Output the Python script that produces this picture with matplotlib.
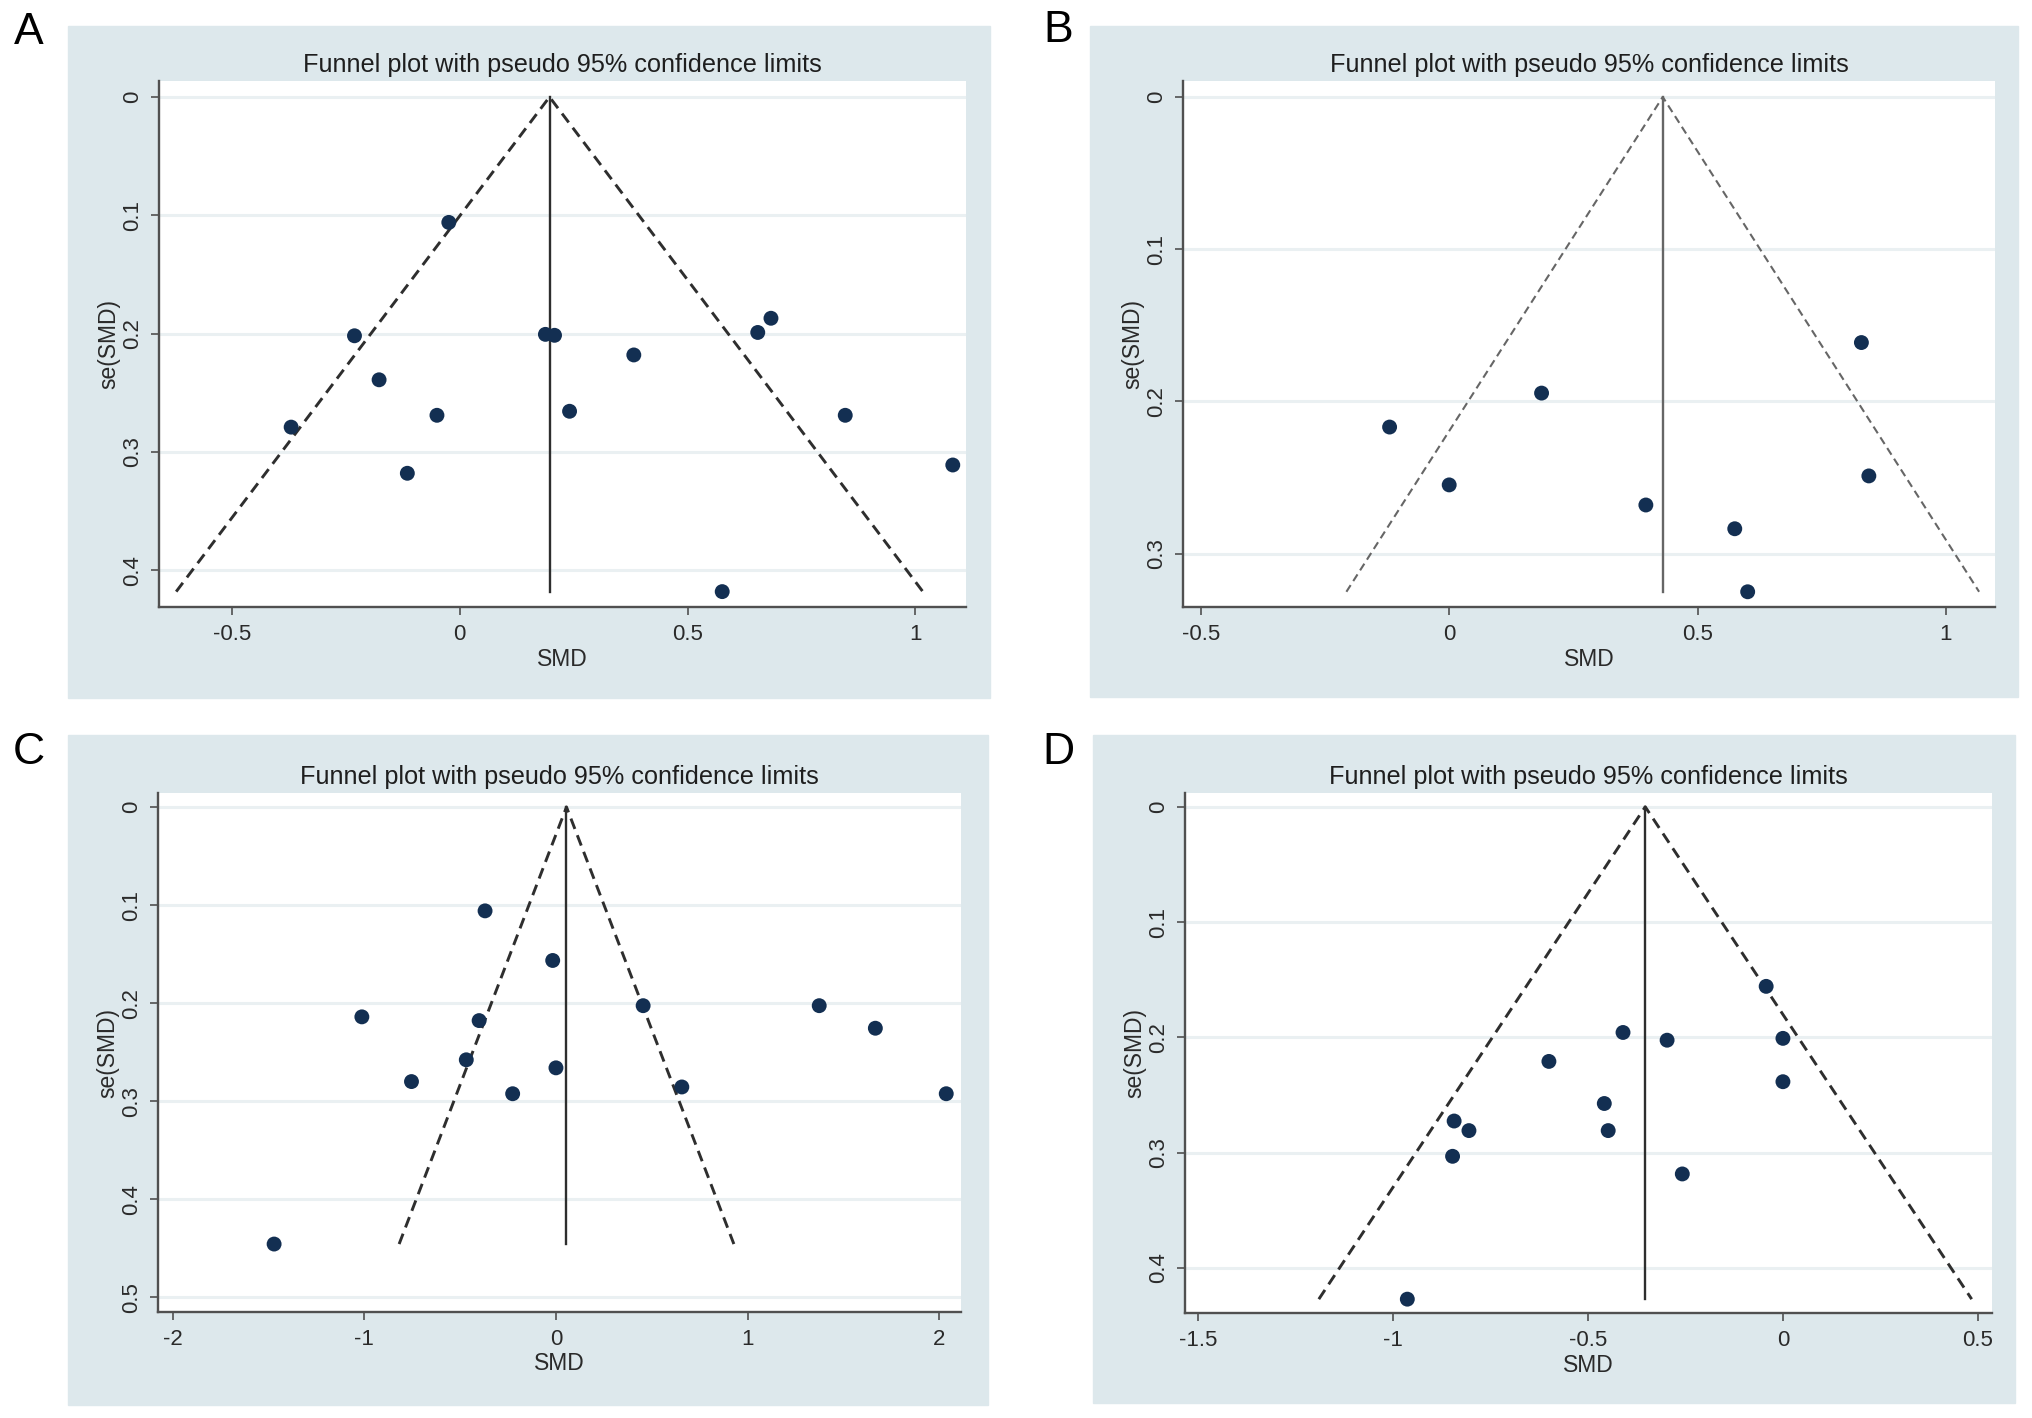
import numpy as np
import matplotlib
matplotlib.use("Agg")
import matplotlib.pyplot as plt
from matplotlib.patches import Rectangle

plt.rcParams['font.family'] = ['Liberation Sans', 'DejaVu Sans']
plt.rcParams['axes.unicode_minus'] = False

# values
a_smd = [-0.024, -0.231, -0.177, -0.370, -0.050, -0.115, 0.188, 0.208,
         0.241, 0.382, 0.654, 0.683, 0.846, 1.082, 0.576]
a_se = [0.106, 0.2018, 0.239, 0.279, 0.269, 0.318, 0.2006, 0.2014,
        0.2656, 0.218, 0.199, 0.187, 0.269, 0.311, 0.418]
a_theta = 0.197

b_smd = [-0.120, 0.000, 0.186, 0.396, 0.575, 0.601, 0.830, 0.845]
b_se = [0.2168, 0.2548, 0.1945, 0.268, 0.2836, 0.325, 0.1613, 0.2489]
b_theta = 0.43

c_smd = [-0.370, -0.017, -1.013, -0.401, 0.455, 1.374, 1.667, -0.468,
         0.000, -0.754, -0.226, 0.657, 2.037, -1.471]
c_se = [0.1059, 0.1565, 0.214, 0.2178, 0.2026, 0.2026, 0.2256, 0.2578,
        0.266, 0.28, 0.2924, 0.2855, 0.2924, 0.4457]
c_theta = 0.055

d_smd = [-0.043, -0.410, -0.297, 0.0, -0.600, 0.0, -0.458, -0.843,
         -0.805, -0.448, -0.847, -0.258, -0.963]
d_se = [0.1557, 0.1957, 0.2024, 0.2008, 0.2208, 0.2384, 0.2573, 0.2725,
        0.2808, 0.2808, 0.3031, 0.3184, 0.427]
d_theta = -0.353

a_xticks = [-0.5, 0, 0.5, 1]
b_xticks = [-0.5, 0, 0.5, 1]
c_xticks = [-2, -1, 0, 1, 2]
d_xticks = [-1.5, -1, -0.5, 0, 0.5]
a_yticks = [0, 0.1, 0.2, 0.3, 0.4]
b_yticks = [0, 0.1, 0.2, 0.3]
c_yticks = [0, 0.1, 0.2, 0.3, 0.4, 0.5]
d_yticks = [0, 0.1, 0.2, 0.3, 0.4]

title = 'Funnel plot with pseudo 95% confidence limits'

W, H = 2032, 1418
fig = plt.figure(figsize=(W / 100, H / 100), dpi=100)
fig.patch.set_facecolor('white')

BG = '#dde8ec'
NAVY = '#132f52'


def fmt(v):
    return f'{v:g}'


def panel(letter, smd, se, theta, xticks, yticks, xlim, ylim,
          plot_px, box_px, letter_px, line_col='#2e2e2e', dash_lw=2.1):
    # gray graph region
    x0, y0, x1, y1 = box_px
    fig.add_artist(Rectangle((x0 / W, 1 - y1 / H), (x1 - x0) / W, (y1 - y0) / H,
                             transform=fig.transFigure, color=BG, zorder=0))
    fig.text(letter_px[0] / W, 1 - letter_px[1] / H, letter, fontsize=32,
             ha='center', va='center', color='black')

    l, t, r, b = plot_px
    ax = fig.add_axes([l / W, 1 - b / H, (r - l) / W, (b - t) / H])
    wpx, hpx = r - l, b - t
    ax.set_facecolor('white')

    for yv in yticks:
        ax.axhline(yv, color='#eaf0f2', lw=2.2, zorder=1)

    semax = max(se)
    ax.plot([theta - 1.96 * semax, theta, theta + 1.96 * semax],
            [semax, 0, semax], color=line_col, lw=dash_lw,
            linestyle=(0, (3.8, 2.3)), zorder=2)
    ax.plot([theta, theta], [0, semax], color=line_col, lw=1.7, zorder=2)
    ax.scatter(smd, se, s=115, color=NAVY, edgecolors='none', zorder=3)

    ax.set_xlim(*xlim)
    ax.set_ylim(ylim[1], ylim[0])
    ax.set_xticks(xticks)
    ax.set_xticklabels([fmt(v) for v in xticks])
    ax.set_yticks(yticks)
    ax.set_yticklabels([fmt(v) for v in yticks], rotation=90, va='center')

    for s in ['top', 'right']:
        ax.spines[s].set_visible(False)
    for s in ['left', 'bottom']:
        ax.spines[s].set_color('#505050')
        ax.spines[s].set_linewidth(1.7)
    ax.tick_params(axis='x', length=5.5, width=1.2, color='#505050',
                   labelsize=16, labelcolor='#2a2a2a', pad=6.5)
    ax.tick_params(axis='y', length=5.5, width=1.2, color='#505050',
                   labelsize=16, labelcolor='#2a2a2a', pad=5.6)

    ax.text(0.5, 1 + 16 / hpx, title, transform=ax.transAxes, fontsize=18.2,
            ha='center', va='center', color='#1e1e1e')
    ax.text(0.5, -52 / hpx, 'SMD', transform=ax.transAxes, fontsize=16.5,
            ha='center', va='center', color='#2a2a2a')
    ax.text(-50 / wpx, 0.5, 'se(SMD)', transform=ax.transAxes, fontsize=16.5,
            rotation=90, ha='center', va='center', color='#2a2a2a')
    return ax


panel('A', a_smd, a_se, a_theta, a_xticks, a_yticks,
      (-0.660, 1.111), (-0.0135, 0.431),
      (159, 81, 966, 607), (68, 26, 990, 698), (29, 32))
panel('B', b_smd, b_se, b_theta, b_xticks, b_yticks,
      (-0.536, 1.099), (-0.0105, 0.335),
      (1183, 81, 1995, 607), (1090, 26, 2018, 697), (1058, 31),
      line_col='#666666', dash_lw=1.5)
panel('C', c_smd, c_se, c_theta, c_xticks, c_yticks,
      (-2.077, 2.114), (-0.0143, 0.515),
      (158, 793, 961, 1312), (68, 735, 988, 1405), (29, 753))
panel('D', d_smd, d_se, d_theta, d_xticks, d_yticks,
      (-1.533, 0.536), (-0.012, 0.439),
      (1185, 793, 1992, 1313), (1093, 735, 2015, 1403), (1058, 753))

fig.savefig('out.png', dpi=100)
